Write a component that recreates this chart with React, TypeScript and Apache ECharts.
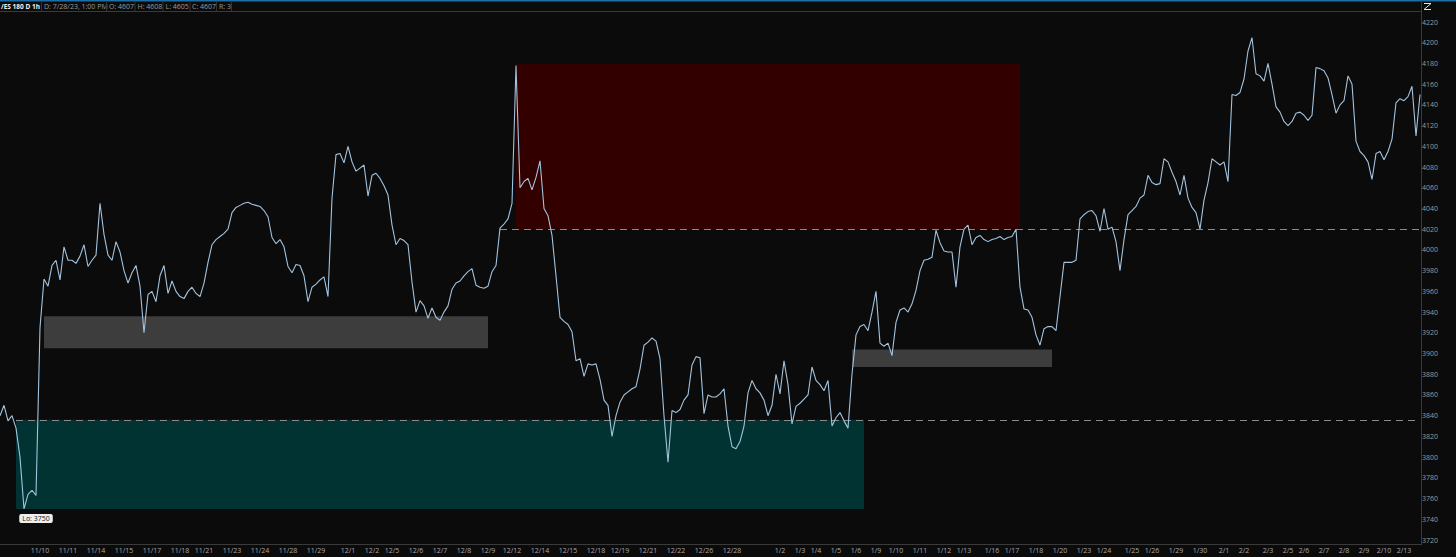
import React, { useEffect, useRef } from "react";
import * as echarts from "echarts";

// hourly price path (close estimates), one sample per category slot
const price: number[] = [
  3840, 3850, 3835, 3840, 3828, 3800, 3750, 3764, 3768, 3763,
  3925, 3972, 3965, 3985, 3990, 3971, 4003, 3990, 3990, 3987,
  3994, 4005, 3984, 3990, 3995, 4045, 4015, 3995, 3990, 4008,
  3998, 3980, 3968, 3978, 3985, 3965, 3920, 3957, 3960, 3950,
  3975, 3985, 3958, 3970, 3960, 3955, 3953, 3960, 3964, 3958,
  3955, 3968, 3988, 4005, 4010, 4013, 4016, 4020, 4036, 4041,
  4043, 4045, 4046, 4044, 4043, 4042, 4038, 4032, 4012, 4006,
  4010, 4003, 3984, 3978, 3986, 3985, 3975, 3950, 3964, 3967,
  3971, 3974, 3955, 4050, 4092, 4093, 4084, 4100, 4085, 4076,
  4079, 4082, 4052, 4072, 4074, 4069, 4062, 4053, 4024, 4005,
  4011, 4009, 4005, 3969, 3940, 3951, 3946, 3934, 3944, 3935,
  3932, 3940, 3946, 3962, 3968, 3970, 3975, 3979, 3982, 3966,
  3964, 3963, 3965, 3979, 3985, 4021, 4025, 4030, 4045, 4178,
  4060, 4066, 4069, 4058, 4070, 4086, 4040, 4033, 4014, 3975,
  3935, 3931, 3928, 3921, 3893, 3895, 3878, 3890, 3889, 3890,
  3875, 3855, 3850, 3820, 3840, 3853, 3860, 3863, 3866, 3868,
  3885, 3908, 3911, 3915, 3912, 3895, 3840, 3795, 3845, 3843,
  3846, 3855, 3860, 3889, 3897, 3896, 3842, 3860, 3858, 3858,
  3861, 3866, 3830, 3810, 3808, 3815, 3830, 3862, 3874, 3866,
  3862, 3855, 3840, 3850, 3880, 3861, 3893, 3870, 3832, 3849,
  3852, 3856, 3860, 3887, 3874, 3870, 3864, 3874, 3830, 3838,
  3843, 3835, 3828, 3880, 3918, 3926, 3928, 3922, 3940, 3960,
  3910, 3907, 3910, 3898, 3930, 3942, 3944, 3940, 3948, 3961,
  3980, 3990, 3991, 3993, 4019, 4007, 3999, 3998, 3998, 3964,
  4003, 4020, 4024, 4005, 4012, 4014, 4010, 4008, 4010, 4011,
  4013, 4010, 4012, 4013, 4020, 3964, 3943, 3942, 3935, 3918,
  3908, 3924, 3926, 3926, 3922, 3955, 3988, 3988, 3988, 3990,
  4030, 4034, 4037, 4038, 4033, 4018, 4040, 4020, 4022, 4008,
  3980, 4010, 4034, 4038, 4042, 4050, 4053, 4072, 4065, 4063,
  4064, 4088, 4085, 4075, 4066, 4053, 4072, 4050, 4041, 4036,
  4020, 4048, 4065, 4088, 4085, 4082, 4085, 4066, 4150, 4149,
  4152, 4165, 4192, 4205, 4170, 4168, 4163, 4180, 4160, 4138,
  4133, 4124, 4120, 4124, 4132, 4133, 4130, 4125, 4130, 4176,
  4175, 4173, 4166, 4150, 4132, 4140, 4144, 4168, 4160, 4105,
  4095, 4091, 4085, 4068, 4093, 4095, 4087, 4095, 4107, 4142,
  4146, 4144, 4148, 4158, 4110, 4150,
];

// session date ticks: slot index and label
const tickIndex: number[] = [
  10, 17, 24, 31, 38, 45, 51, 58, 65, 72, 79,
  87, 93, 98, 104, 110, 116, 122,
  128, 135, 142, 149, 155, 162, 169, 176, 183,
  195, 200, 204, 209, 214, 219, 224, 230, 236, 241,
  248, 253, 259, 265, 271, 276, 283, 288, 294, 300,
  306, 311, 317, 322, 326, 331, 336, 341, 346, 351,
];
const tickLabels: string[] = [
  "11/10", "11/11", "11/14", "11/15", "11/17", "11/18", "11/21", "11/23", "11/24", "11/28", "11/29",
  "12/1", "12/2", "12/5", "12/6", "12/7", "12/8", "12/9",
  "12/12", "12/14", "12/15", "12/18", "12/19", "12/21", "12/22", "12/26", "12/28",
  "1/2", "1/3", "1/4", "1/5", "1/6", "1/9", "1/10", "1/11", "1/12", "1/13",
  "1/16", "1/17", "1/18", "1/20", "1/23", "1/24", "1/25", "1/26", "1/29", "1/30",
  "2/1", "2/2", "2/3", "2/5", "2/6", "2/7", "2/8", "2/9", "2/10", "2/13",
];

// zones: [startSlot, endSlot, upperPrice, lowerPrice]
const supplyZone: number[] = [128.5, 255.25, 4180, 4020];
const demandZone: number[] = [4, 216.25, 3836, 3750];
const baseZoneA: number[] = [10.5, 121.5, 3936, 3905];
const baseZoneB: number[] = [213.25, 263, 3904, 3887];

// horizontal dashed levels: [startSlot, price]
const levelHigh: number[] = [124.5, 4020];
const levelLow: number[] = [4, 3836];

const header: string[] = ["D: 7/28/23, 1:00 PM", "O: 4607", "H: 4608", "L: 4605", "C: 4607", "R: 3"];
const symbolTitle = "/ES 180 D 1h";

const yMin = 3720;
const yMax = 4220;
const yStep = 20;

export default function App() {
  const ref = useRef<HTMLDivElement>(null);

  useEffect(() => {
    if (!ref.current) return;
    const chart = echarts.init(ref.current, null, { renderer: "svg" });
    const n = price.length;
    const categories = price.map((_, i) => String(i));
    const labelMap: Record<number, string> = {};
    tickIndex.forEach((idx, k) => (labelMap[idx] = tickLabels[k]));
    let lowIdx = 0;
    price.forEach((v, i) => {
      if (v < price[lowIdx]) lowIdx = i;
    });

    const zone = (z: number[], color: string) => [
      { coord: [z[0], z[2]], itemStyle: { color } },
      { coord: [z[1], z[3]] },
    ];

    const font = "'Open Sans', 'Noto Sans', sans-serif";

    // header texts
    const headerEls: any[] = [];
    const sepXs = [41.5, 106.5, 135, 163, 190, 216.5, 231.5];
    const textXs = [44, 109, 137.5, 165.5, 192, 219];
    headerEls.push({
      type: "text",
      x: 1,
      y: 6.5,
      style: { text: symbolTitle, fill: "#f2f2f2", fontSize: 6.5, fontWeight: "bold", fontFamily: font, verticalAlign: "middle" },
    });
    header.forEach((t, k) => {
      headerEls.push({
        type: "text",
        x: textXs[k],
        y: 6.5,
        style: { text: t, fill: "#9a9a9a", fontSize: 7, fontFamily: font, verticalAlign: "middle" },
      });
    });
    sepXs.forEach((sx) => {
      headerEls.push({
        type: "line",
        shape: { x1: sx, y1: 1.5, x2: sx, y2: 11 },
        style: { stroke: "#333", lineWidth: 1 },
      });
    });

    chart.setOption({
      animation: false,
      backgroundColor: "#0b0b0b",
      grid: { left: 0, right: 36, top: 22, bottom: 17 },
      xAxis: {
        type: "category",
        data: categories,
        boundaryGap: false,
        axisLine: { show: false },
        axisTick: { show: false },
        splitLine: { show: false },
        axisLabel: {
          interval: (idx: number) => labelMap[idx] !== undefined,
          formatter: (_v: string, idx: number) => labelMap[idx] ?? "",
          color: "#a8a8a8",
          fontSize: 7,
          fontFamily: font,
          margin: 7,
        },
      },
      yAxis: {
        type: "value",
        position: "right",
        min: yMin,
        max: yMax,
        interval: yStep,
        axisLine: { show: false },
        axisTick: { show: false },
        splitLine: { show: false },
        axisLabel: {
          color: "#9a9a9a",
          fontSize: 7,
          fontFamily: font,
          margin: 2,
          formatter: (v: number) => String(v),
        },
      },
      series: [
        {
          type: "line",
          data: price,
          symbol: "none",
          z: 5,
          lineStyle: { color: "#a3c3de", width: 1.1 },
          markArea: {
            silent: true,
            z: 1,
            data: [
              zone(supplyZone, "#330000"),
              zone(demandZone, "#013333"),
              zone(baseZoneA, "#3d3d3d"),
              zone(baseZoneB, "#3d3d3d"),
            ],
          },
          markLine: {
            silent: true,
            symbol: "none",
            label: { show: false },
            lineStyle: { color: "#8a8a8a", width: 1, type: [7, 5] },
            data: [
              [{ coord: [levelHigh[0], levelHigh[1]] }, { coord: [n - 1, levelHigh[1]] }],
              [{ coord: [levelLow[0], levelLow[1]] }, { coord: [n - 1, levelLow[1]] }],
            ],
          },
          markPoint: {
            symbol: "circle",
            symbolSize: 0,
            data: [
              {
                coord: [lowIdx, price[lowIdx]],
                value: price[lowIdx],
                label: {
                  show: true,
                  position: "bottom",
                  distance: 5,
                  offset: [12, 0],
                  formatter: "Lo: {c}",
                  color: "#222",
                  fontSize: 7,
                  fontFamily: font,
                  backgroundColor: "#eeeeee",
                  borderRadius: 2,
                  padding: [1, 3, 1, 3],
                },
              },
            ],
          },
        },
      ],
      graphic: [
        { type: "rect", shape: { x: 0, y: 0, width: 1456, height: 1.5 }, style: { fill: "#1d6ea6" } },
        { type: "line", shape: { x1: 0, y1: 11.5, x2: 1421, y2: 11.5 }, style: { stroke: "#3a3a3a", lineWidth: 1 } },
        { type: "line", shape: { x1: 1421.5, y1: 1.5, x2: 1421.5, y2: 545 }, style: { stroke: "#3a3a3a", lineWidth: 1 } },
        { type: "line", shape: { x1: 0, y1: 544.5, x2: 1421, y2: 544.5 }, style: { stroke: "#3a3a3a", lineWidth: 1 } },
        {
          type: "polyline",
          shape: { points: [[1424, 3.5], [1431, 3.5], [1424, 9.5], [1431, 9.5]] },
          style: { stroke: "#e6e6e6", lineWidth: 1, fill: "none" },
        },
        ...headerEls,
      ],
    });

    return () => chart.dispose();
  }, []);

  return (
    <div
      ref={ref}
      style={{ position: "absolute", left: 0, top: 0, width: 1456, height: 557 }}
    />
  );
}
